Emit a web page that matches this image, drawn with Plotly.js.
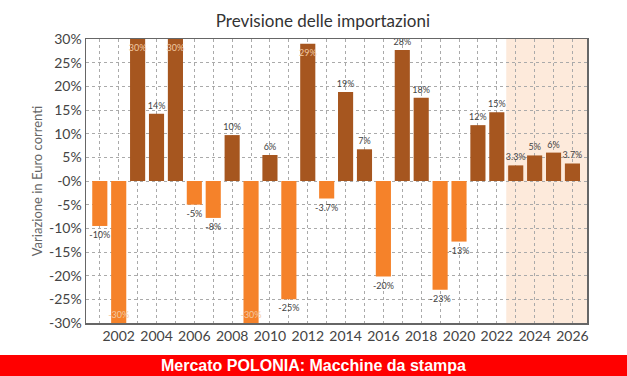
<!DOCTYPE html>
<html>
<head>
<meta charset="utf-8">
<script src="https://cdn.plot.ly/plotly-3.0.1.min.js"></script>
<style>html,body{margin:0;padding:0;background:#fff;}#chart{width:627px;height:376px;}</style>
</head>
<body>
<div id="chart"></div>
<script>
const years = [2001,2002,2003,2004,2005,2006,2007,2008,2009,2010,2011,2012,2013,2014,2015,2016,2017,2018,2019,2020,2021,2022,2023,2024,2025,2026];
const values = [-9.5,-30,30,14.2,30,-5,-7.8,9.7,-30,5.5,-25,29,-3.7,18.8,6.7,-20.2,27.7,17.6,-23,-12.8,11.8,14.5,3.3,5.4,6,3.7];
const labels = ["-10%","-30%","30%","14%","30%","-5%","-8%","10%","-30%","6%","-25%","29%","-3.7%","19%","7%","-20%","28%","18%","-23%","-13%","12%","15%","3.3%","5%","6%","3.7%"];
const clipped = [2002,2003,2005,2009,2012];
const yTickVals = [30,25,20,15,10,5,0,-5,-10,-15,-20,-25,-30];
const yTickText = ["30%","25%","20%","15%","10%","5%","-0%","-5%","-10%","-15%","-20%","-25%","-30%"];
const xTickText = years.map(y => (y % 2 === 0 ? String(y) : ""));

const POS = "#a6561f", NEG = "#f5822a";
const trace = {
  type: "bar",
  x: years,
  y: values,
  text: labels,
  marker: {color: values.map(v => v >= 0 ? POS : NEG)},
  textposition: years.map(y => clipped.includes(y) ? "inside" : "outside"),
  insidetextanchor: "end",
  textangle: 0,
  constraintext: "none",
  cliponaxis: false,
  insidetextfont: {family: "Lato, sans-serif", size: 9, color: "#f2c9a2"},
  outsidetextfont: {family: "Lato, sans-serif", size: 9, color: "#444"},
  hoverinfo: "skip"
};

const layout = {
  width: 627, height: 376,
  margin: {l: 86, r: 40, t: 39, b: 53},
  paper_bgcolor: "#fff", plot_bgcolor: "rgba(0,0,0,0)",
  bargap: 0.2,
  showlegend: false,
  font: {family: "Lato, sans-serif", color: "#444"},
  title: {text: "Previsione delle importazioni", x: 0.515, xanchor: "center", y: 0.945, yanchor: "middle",
          font: {family: "Lato, sans-serif", size: 17, color: "#333"}},
  xaxis: {
    range: [2000.27, 2026.77],
    tickvals: years, ticktext: xTickText,
    showgrid: true, gridcolor: "#aaaaaa", griddash: "dot", gridwidth: 1,
    showline: true, linecolor: "#666", linewidth: 1.5, mirror: true,
    ticks: "", zeroline: false,
    tickfont: {family: "Lato, sans-serif", size: 14, color: "#444"}
  },
  yaxis: {
    range: [-30, 30],
    tickvals: yTickVals, ticktext: yTickText,
    showgrid: true, gridcolor: "#aaaaaa", griddash: "dot", gridwidth: 1,
    showline: true, linecolor: "#666", linewidth: 1.5, mirror: true,
    ticks: "", zeroline: false,
    tickfont: {family: "Lato, sans-serif", size: 14, color: "#444"},
    title: {text: "Variazione in Euro correnti", standoff: 3, font: {family: "Lato, sans-serif", size: 13, color: "#666"}}
  },
  shapes: [
    {type: "rect", xref: "x", yref: "paper", x0: 2022.5, x1: 2026.77, y0: 0, y1: 1,
     fillcolor: "#fdeadb", line: {width: 0}, layer: "below"},
    {type: "rect", xref: "paper", yref: "paper", x0: -86/501, x1: 1 + 40/501, y0: -53/284, y1: -32/284,
     fillcolor: "#ff0000", line: {width: 0}, layer: "above"}
  ],
  annotations: [
    {text: "<b>Mercato POLONIA: Macchine da stampa</b>", xref: "paper", yref: "paper",
     x: (313.5 - 86) / 501, y: -42.5/284, xanchor: "center", yanchor: "middle", showarrow: false,
     font: {family: "Liberation Sans, Arial, sans-serif", size: 16, color: "#fff"}}
  ]
};

Plotly.newPlot("chart", [trace], layout, {displayModeBar: false, staticPlot: true});
</script>
</body>
</html>
